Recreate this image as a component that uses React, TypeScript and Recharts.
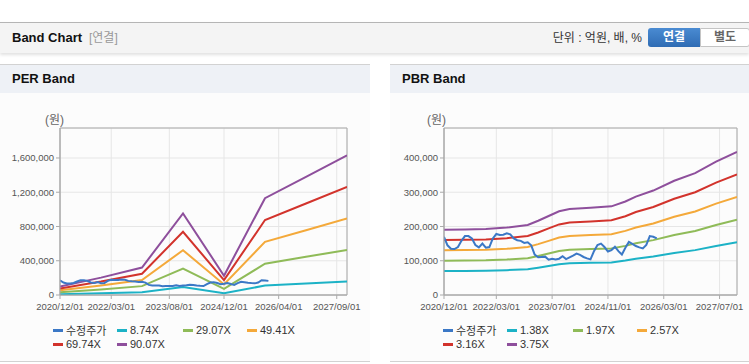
import React from 'react';
import {
  LineChart,
  Line,
  XAxis,
  YAxis,
  CartesianGrid,
  ReferenceArea,
} from 'recharts';

// x = months since 2020/12
const priceValues = [
  170000, 145000, 135000, 134000, 140000, 158000, 172000, 172000, 165000, 146000,
  139000, 150000, 138000, 140000, 165000, 178000, 175000, 176000, 180000, 177000,
  165000, 160000, 158000, 152000, 154000, 145000, 118000, 110000, 111000, 112000,
  103000, 106000, 104000, 106000, 113000, 105000, 110000, 115000, 121000, 117000,
  111000, 107000, 104000, 128000, 146000, 150000, 140000, 127000, 131000, 141000,
  128000, 118000, 138000, 155000, 149000, 143000, 139000, 136000, 146000, 172000,
  170000, 165000,
];

const perMonths = [0, 12, 24, 36, 48, 60, 72, 84];
const per874 = [9600, 19700, 31100, 92500, 21900, 109700, 133900, 158300];
const per2907 = [32000, 65400, 103500, 307600, 72700, 364800, 445400, 526500];
const per4941 = [54400, 111200, 175900, 522800, 123500, 620100, 757000, 894800];
const per6974 = [76700, 156900, 248300, 737800, 174400, 875200, 1068400, 1263000];
const per9007 = [99100, 202700, 320600, 952900, 225200, 1130400, 1379900, 1631200];

const pbrMonths = [0, 6, 12, 18, 24, 27, 30, 33, 36, 42, 48, 52, 55, 60, 66, 72, 78, 84];
const pbr138 = [70100, 70400, 70800, 72500, 75200, 79800, 84900, 90000, 92500, 93800, 95200, 100500, 105700, 112200, 122700, 131000, 143200, 153700];
const pbr197 = [100100, 100500, 101100, 103400, 107400, 113900, 121200, 128400, 132000, 134000, 135900, 143400, 150900, 160200, 175100, 187000, 204500, 219500];
const pbr257 = [130600, 131100, 131800, 134900, 140100, 148500, 158100, 167600, 172200, 174800, 177300, 187100, 196900, 208900, 228500, 243900, 266800, 286300];
const pbr316 = [160500, 161200, 162100, 165900, 172200, 182600, 194300, 206000, 211700, 214900, 218000, 230000, 242100, 256900, 280900, 299900, 328000, 352000];
const pbr375 = [190500, 191300, 192400, 196900, 204400, 216800, 230600, 244500, 251300, 255000, 258800, 273000, 287300, 304900, 333400, 355900, 389300, 417800];

const perTickMonths = [0, 15, 32, 48, 64, 81];
const perTickLabels = ['2020/12/01', '2022/03/01', '2023/08/01', '2024/12/01', '2026/04/01', '2027/09/01'];
const pbrTickMonths = [0, 15, 31, 47, 63, 79];
const pbrTickLabels = ['2020/12/01', '2022/03/01', '2023/07/01', '2024/11/01', '2026/03/01', '2027/07/01'];

const perYTicks = [0, 400000, 800000, 1200000, 1600000];
const pbrYTicks = [0, 100000, 200000, 300000, 400000];

const perNames = ['수정주가', '8.74X', '29.07X', '49.41X', '69.74X', '90.07X'];
const pbrNames = ['수정주가', '1.38X', '1.97X', '2.57X', '3.16X', '3.75X'];
const COLORS = ['#3b78c6', '#1cb2c6', '#8fbb58', '#f4a93a', '#d2332c', '#8e4f9c'];

const FONT = "'Liberation Sans', 'Noto Sans CJK KR', Arial, sans-serif";

const toPoints = (months: number[], values: number[]) =>
  values.map((v, i) => ({ m: months[i], v }));

const priceMonths = priceValues.map((_, i) => i);

function BandChart({
  bands,
  bandMonths,
  names,
  tickMonths,
  tickLabels,
  yTicks,
  yMax,
  width,
  margin,
  yWidth,
}: {
  bands: number[][];
  bandMonths: number[];
  names: string[];
  tickMonths: number[];
  tickLabels: string[];
  yTicks: number[];
  yMax: number;
  width: number;
  margin: { top: number; right: number; bottom: number; left: number };
  yWidth: number;
}) {
  return (
    <LineChart width={width} height={220} margin={margin}>
      <CartesianGrid stroke="#e6e6e6" />
      <XAxis
        type="number"
        dataKey="m"
        domain={[0, 84]}
        ticks={tickMonths}
        interval={0}
        tickFormatter={(m: number) => tickLabels[tickMonths.indexOf(m)] ?? ''}
        tick={{ fontSize: 9.5, fill: '#555', fontFamily: FONT }}
        tickSize={4}
        tickMargin={4}
        axisLine={{ stroke: '#aaa' }}
        tickLine={{ stroke: '#aaa' }}
        height={20}
        allowDataOverflow
      />
      <YAxis
        type="number"
        domain={[0, yMax]}
        ticks={yTicks}
        interval={0}
        tickFormatter={(v: number) => v.toLocaleString('en-US')}
        tick={{ fontSize: 9.5, fill: '#555', fontFamily: FONT }}
        tickSize={4}
        axisLine={{ stroke: '#aaa' }}
        tickLine={{ stroke: '#aaa' }}
        width={yWidth}
        allowDataOverflow
      />
      <ReferenceArea x1={0} x2={84} y1={0} y2={yMax} fill="none" fillOpacity={0} stroke="#aaa" />
      {bands.map((vals, i) => (
        <Line
          key={names[i + 1]}
          data={toPoints(bandMonths, vals)}
          dataKey="v"
          type="linear"
          stroke={COLORS[i + 1]}
          strokeWidth={2}
          dot={false}
          isAnimationActive={false}
        />
      ))}
      <Line
        data={toPoints(priceMonths, priceValues)}
        dataKey="v"
        type="linear"
        stroke={COLORS[0]}
        strokeWidth={2}
        dot={false}
        isAnimationActive={false}
      />
    </LineChart>
  );
}

function LegendBox({ names }: { names: string[] }) {
  const cols = [53, 117, 183, 247];
  return (
    <>
      {names.map((n, i) => (
        <div
          key={n}
          style={{
            position: 'absolute',
            left: cols[i % 4],
            top: i < 4 ? 323 : 337,
            height: 14,
            display: 'flex',
            alignItems: 'center',
            fontSize: 11,
            color: '#333',
            whiteSpace: 'nowrap',
          }}
        >
          <span style={{ display: 'inline-block', width: 10, height: 3, background: COLORS[i], marginRight: 3 }} />
          {n}
        </div>
      ))}
    </>
  );
}

function Panel({ left, width, title, children }: { left: number; width: number; title: string; children: React.ReactNode }) {
  return (
    <div style={{ position: 'absolute', left, top: 64, width, height: 298 }}>
      <div style={{ position: 'absolute', left: 0, top: 0, width, height: 1, background: '#d2d2d2' }} />
      <div
        style={{
          position: 'absolute',
          left: 0,
          top: 1,
          width,
          height: 28,
          background: '#eef1f6',
          lineHeight: '28px',
          fontWeight: 'bold',
          fontSize: 13,
          color: '#111',
          paddingLeft: 12,
          boxSizing: 'border-box',
        }}
      >
        {title}
      </div>
      <div style={{ position: 'absolute', left: 0, top: 29, width, height: 268, background: '#fcfcfc' }} />
      <div style={{ position: 'absolute', left: 0, top: 297, width, height: 1, background: '#d2d2d2' }} />
      {children}
    </div>
  );
}

export default function App() {
  return (
    <div style={{ position: 'absolute', left: 0, top: 0, width: 749, height: 364, background: '#fff', fontFamily: FONT, overflow: 'hidden' }}>
      {/* header bar */}
      <div
        style={{
          position: 'absolute',
          left: 0,
          top: 22,
          width: 749,
          height: 30,
          background: '#f4f4f4',
          borderTop: '1px solid #b5b5b5',
          boxShadow: '0 2px 3px rgba(0,0,0,0.12)',
        }}
      >
        <span style={{ position: 'absolute', left: 12, top: 0, lineHeight: '30px', fontSize: 13, fontWeight: 'bold', color: '#111' }}>
          Band Chart
        </span>
        <span style={{ position: 'absolute', left: 89, top: 0, lineHeight: '30px', fontSize: 12, color: '#999' }}>[연결]</span>
        <span style={{ position: 'absolute', left: 530, width: 112, top: 0, lineHeight: '30px', fontSize: 12, color: '#333', textAlign: 'right' }}>
          단위 : 억원, 배, %
        </span>
        <div
          style={{
            position: 'absolute',
            left: 648,
            top: 5,
            width: 52,
            height: 19,
            background: 'linear-gradient(#4a8bd2, #2f6cb4)',
            borderRadius: '3px 0 0 3px',
            color: '#fff',
            fontWeight: 'bold',
            fontSize: 12,
            lineHeight: '19px',
            textAlign: 'center',
          }}
        >
          연결
        </div>
        <div
          style={{
            position: 'absolute',
            left: 700,
            top: 5,
            width: 48,
            height: 17,
            background: '#fff',
            border: '1px solid #c4c4c4',
            borderRadius: '0 3px 3px 0',
            color: '#666',
            fontWeight: 'bold',
            fontSize: 12,
            lineHeight: '17px',
            textAlign: 'center',
          }}
        >
          별도
        </div>
      </div>

      <Panel left={0} width={370} title="PER Band">
        <div style={{ position: 'absolute', left: 45, top: 46, fontSize: 12, color: '#666' }}>(원)</div>
        <div style={{ position: 'absolute', left: 0, top: 36 }}>
          <BandChart
            bands={[per874, per2907, per4941, per6974, per9007]}
            bandMonths={perMonths}
            names={perNames}
            tickMonths={perTickMonths}
            tickLabels={perTickLabels}
            yTicks={perYTicks}
            yMax={1950000}
            width={370}
            margin={{ top: 28, right: 23, bottom: 5, left: 5 }}
            yWidth={55}
          />
        </div>
        <div style={{ position: 'absolute', left: 0, top: -64 }}>
          <LegendBox names={perNames} />
        </div>
      </Panel>

      <Panel left={390} width={359} title="PBR Band">
        <div style={{ position: 'absolute', left: 37, top: 46, fontSize: 12, color: '#666' }}>(원)</div>
        <div style={{ position: 'absolute', left: 0, top: 36 }}>
          <BandChart
            bands={[pbr138, pbr197, pbr257, pbr316, pbr375]}
            bandMonths={pbrMonths}
            names={pbrNames}
            tickMonths={pbrTickMonths}
            tickLabels={pbrTickLabels}
            yTicks={pbrYTicks}
            yMax={487500}
            width={359}
            margin={{ top: 28, right: 12, bottom: 5, left: 4 }}
            yWidth={50}
          />
        </div>
        <div style={{ position: 'absolute', left: 0, top: -64 }}>
          <LegendBox names={pbrNames} />
        </div>
      </Panel>
    </div>
  );
}
